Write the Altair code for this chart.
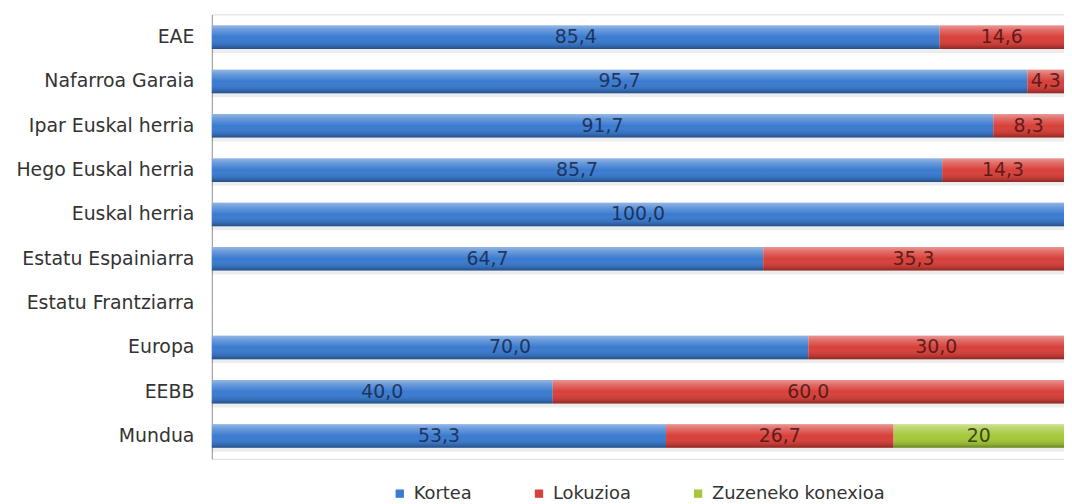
import altair as alt
import pandas as pd

categories = ["EAE", "Nafarroa Garaia", "Ipar Euskal herria", "Hego Euskal herria",
              "Euskal herria", "Estatu Espainiarra", "Estatu Frantziarra", "Europa",
              "EEBB", "Mundua"]
series = ["Kortea", "Lokuzioa", "Zuzeneko konexioa"]
kortea = [85.4, 95.7, 91.7, 85.7, 100.0, 64.7, None, 70.0, 40.0, 53.3]
lokuzioa = [14.6, 4.3, 8.3, 14.3, None, 35.3, None, 30.0, 60.0, 26.7]
zuzeneko = [None, None, None, None, None, None, None, None, None, 20]
decimals = [1, 1, 0]
colors = ["#3a7bd0", "#d8403a", "#a4c83a"]
text_colors = ["#17284a", "#4a1414", "#2a3310"]

rows = []
for i, cat in enumerate(categories):
    start = 0.0
    for s, vals, d in zip(series, [kortea, lokuzioa, zuzeneko], decimals):
        v = vals[i]
        if v is None:
            continue
        label = (f"{v:.{d}f}").replace(".", ",")
        rows.append({"cat": cat, "series": s, "value": v, "start": start,
                     "end": start + v, "mid": start + v / 2, "label": label})
        start += v
df = pd.DataFrame(rows)

yenc = alt.Y("cat:N", sort=categories,
             scale=alt.Scale(domain=categories, paddingInner=0.47, paddingOuter=0.25),
             axis=alt.Axis(title=None, ticks=False, labelFontSize=19, labelFont="DejaVu Sans",
                           labelColor="#333333", labelPadding=18, domainColor="#9a9a9a",
                           labelLimit=300))
xscale = alt.Scale(domain=[0, 100], nice=False, zero=True)

base = alt.Chart(df)

shadow = base.mark_bar(yOffset=4, color="#000000", opacity=0.07).encode(
    x=alt.X("start:Q", scale=xscale, axis=None), x2="end:Q", y=yenc)

bars = base.mark_bar().encode(
    x=alt.X("start:Q", scale=xscale, axis=None), x2="end:Q", y=yenc,
    color=alt.Color("series:N", scale=alt.Scale(domain=series, range=colors),
                    legend=alt.Legend(title=None, orient="none", direction="horizontal",
                                      legendX=180, legendY=473, symbolType="square",
                                      symbolSize=70, labelFontSize=18,
                                      labelFont="DejaVu Sans", labelColor="#333333",
                                      columnPadding=58, symbolStrokeWidth=0, padding=0,
                                      labelOffset=5, labelLimit=400)))

gloss = base.mark_bar(
    fill=alt.Gradient(gradient="linear", x1=0, x2=0, y1=0, y2=1, stops=[
        alt.GradientStop(offset=0, color="rgba(255,255,255,0.45)"),
        alt.GradientStop(offset=0.18, color="rgba(255,255,255,0.25)"),
        alt.GradientStop(offset=0.5, color="rgba(255,255,255,0)"),
        alt.GradientStop(offset=0.85, color="rgba(0,0,0,0.12)"),
        alt.GradientStop(offset=1, color="rgba(0,0,0,0.35)"),
    ])).encode(x=alt.X("start:Q", scale=xscale, axis=None), x2="end:Q", y=yenc)

text = base.mark_text(fontSize=19, font="DejaVu Sans", baseline="middle", align="center",
                      opacity=0.85).encode(
    x=alt.X("mid:Q", scale=xscale, axis=None), y=yenc, text="label:N",
    color=alt.Color("series:N", scale=alt.Scale(domain=series, range=text_colors), legend=None))

chart = alt.layer(shadow, bars, gloss, text).resolve_scale(color="independent").properties(
    width=857, height=447,
    autosize=alt.AutoSizeParams(type="none"),
    padding={"left": 205, "top": 5, "right": 0, "bottom": 44},
).configure_view(stroke=None).configure(background="white")

chart.save("out.html", embed_options={"renderer": "svg", "actions": False})
